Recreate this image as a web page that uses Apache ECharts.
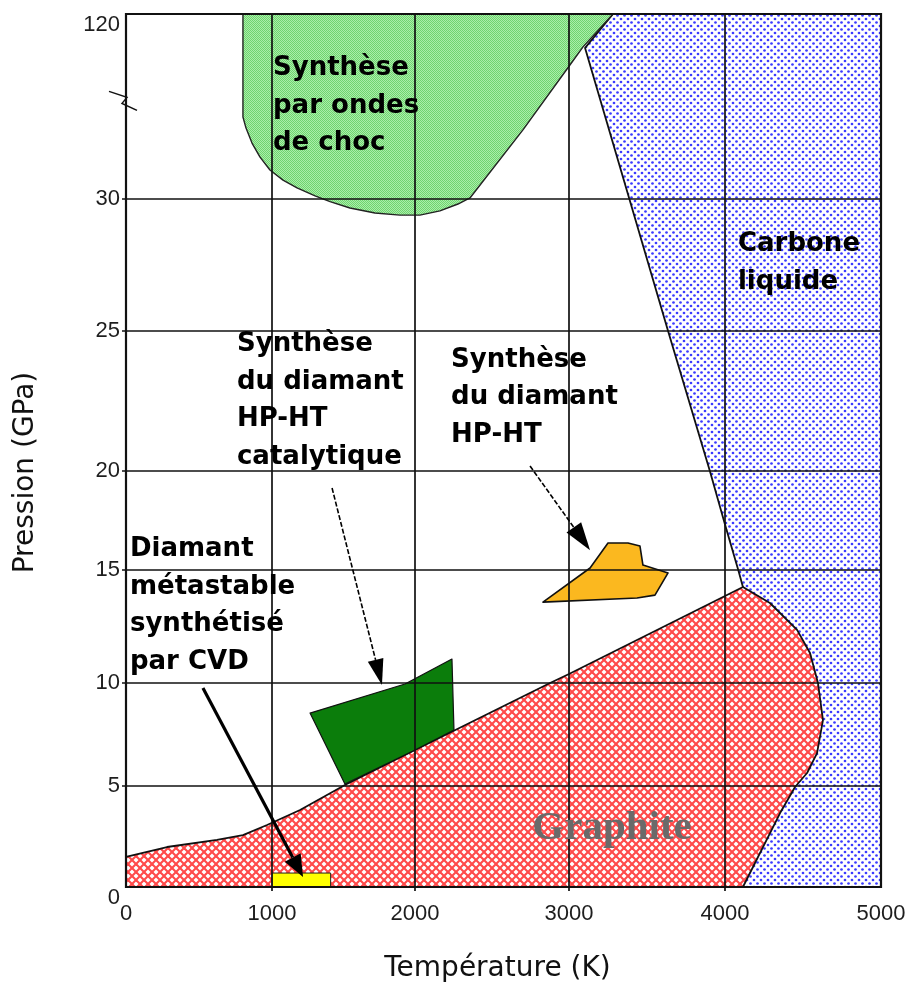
<!DOCTYPE html>
<html><head><meta charset="utf-8">
<script src="https://cdn.jsdelivr.net/npm/echarts@6/dist/echarts.min.js"></script>
<style>html,body{margin:0;padding:0;background:#fff}#c{width:921px;height:992px}</style>
</head><body><div id="c"></div>
<script>
// ---------------- DATA (Température en K, Pression en GPa) ----------------
const tempTicks = [0, 1000, 2000, 3000, 4000, 5000];
const tempTickLabels = ['0', '1000', '2000', '3000', '4000', '5000'];
const pressTicks = [0, 5, 10, 15, 20, 25, 30, 120];
const pressTickLabels = ['0', '5', '10', '15', '20', '25', '30', '120'];

// Synthèse par ondes de choc
const shockWave = [[801,120],[801,69.9],[822,64.5],[863,57.2],[918,50.4],[986,44.1],[1077,39.2],[1175,35.4],[1301,31.5],[1406,29.9],[1545,29.66],[1720,29.47],[1895,29.39],[2032,29.39],[2162,29.55],[2279,29.81],[2357,30.5],[2701,63.6],[3006,95.2],[3090,104],[3282,120]];
// Carbone liquide
const liquidCarbon = [[3282,120],[3103,103.5],[3387,30],[3635,25],[3903,20],[4000,17.3],[4085,15],[4115,14.25],[4115,0],[5000,0],[5000,120]];
// Graphite
const graphite = [[0,0],[0,1.49],[281,1.98],[623,2.33],[801,2.57],[966,3.07],[1196,3.81],[1510,5.05],[2000,6.75],[2877,10],[3000,10.4],[4000,13.85],[4115,14.25],[4288,13.54],[4462,12.35],[4545,11.33],[4596,10],[4628,8.2],[4590,6.6],[4526,5.63],[4449,4.95],[4353,3.66],[4115,0]];
// Synthèse HP-HT catalytique
const catalytic = [[1266,8.54],[1930,9.95],[2240,11.06],[2253,7.72],[2000,6.75],[1510,5.1]];
// Synthèse HP-HT
const hpht = [[2831,13.58],[3135,15.1],[3250,16.36],[3378,16.36],[3455,16.21],[3474,15.25],[3635,14.87],[3551,13.89],[3436,13.76]];
// Diamant CVD
const cvd = [[1000,0],[1410,0],[1410,0.69],[1000,0.69]];

// Flèches [départ, pointe]
const cvdArrow = [[527,9.76],[1217,0.5]];
const catalyticArrow = [[1420,19.14],[1769,9.9]];
const hphtArrow = [[2747,20.18],[3135,16.0]];

// Textes
const labelTexts = [
  ['Synthèse','par ondes','de choc'],
  ['Carbone','liquide'],
  ['Synthèse','du diamant','HP-HT','catalytique'],
  ['Synthèse','du diamant','HP-HT'],
  ['Diamant','métastable','synthétisé','par CVD']
];
const labelAnchors = [[1007,102.5],[4083,28.98],[760,25.19],[2234,24.64],[27,16.97]];
const graphiteText = 'Graphite';
const graphiteAnchor = [3276,2.92];
const breakMarkPressure = 77;

// ---------------- LAYOUT (axis scale breakpoints, px along each axis) ----------------
const xScalePos = [0,146,289,443,599,755];
const yScalePos = [0,101,204,317,416,556,688,873];
const X_MAX = xScalePos[xScalePos.length-1], Y_MAX = yScalePos[yScalePos.length-1];

function piece(v, ticks, pos){
  for (let i = 1; i < ticks.length; i++) {
    if (v <= ticks[i] || i === ticks.length-1) {
      return pos[i-1] + (v - ticks[i-1]) / (ticks[i] - ticks[i-1]) * (pos[i] - pos[i-1]);
    }
  }
}
const sx = t => piece(t, tempTicks, xScalePos);
const sy = p => piece(p, pressTicks, yScalePos);
function labelFor(v, pos, labels){
  let best = 0;
  for (let i = 0; i < pos.length; i++) if (Math.abs(pos[i]-v) < Math.abs(pos[best]-v)) best = i;
  return labels[best];
}

// ---------------- PATTERNS ----------------
function makePattern(size, draw){
  const c = document.createElement('canvas'); c.width = c.height = size;
  const ctx = c.getContext('2d'); draw(ctx, size);
  return {image: c, repeat: 'repeat'};
}
const greenPat = makePattern(2, (ctx) => {
  ctx.fillStyle = '#aaeeaa'; ctx.fillRect(0,0,2,2);
  ctx.fillStyle = '#6fd46f'; ctx.fillRect(0,0,1,1); ctx.fillRect(1,1,1,1);
});
const bluePat = makePattern(7, (ctx, s) => {
  ctx.fillStyle = '#ffffff'; ctx.fillRect(0,0,s,s);
  ctx.fillStyle = '#3b3bff';
  ctx.beginPath(); ctx.arc(1.5,1.5,1.35,0,Math.PI*2); ctx.fill();
  ctx.beginPath(); ctx.arc(5,5,1.35,0,Math.PI*2); ctx.fill();
});
const redPat = makePattern(8, (ctx, s) => {
  ctx.fillStyle = '#ffffff'; ctx.fillRect(0,0,s,s);
  ctx.strokeStyle = '#ff4a4a'; ctx.lineWidth = 2.1;
  for (const d of [-8,0,8]) {
    ctx.beginPath(); ctx.moveTo(d-1,-1); ctx.lineTo(d+9,9); ctx.stroke();
    ctx.beginPath(); ctx.moveTo(d+9,-1); ctx.lineTo(d-1,9); ctx.stroke();
  }
});

// ---------------- SERIES ----------------
function regionSeries(name, pts, fill, stroke, lw, z){
  return {
    type: 'custom', name, coordinateSystem: 'cartesian2d', data: [[0,0]], z, silent: true,
    renderItem: (params, api) => ({
      type: 'polygon',
      shape: {points: pts.map(p => api.coord([sx(p[0]), sy(p[1])]))},
      style: {fill, stroke, lineWidth: lw, lineJoin: 'round'}
    })
  };
}

function arrowEl(api, arr, lw, dash, headLen, headHalf){
  const a = api.coord([sx(arr[0][0]), sy(arr[0][1])]);
  const b = api.coord([sx(arr[1][0]), sy(arr[1][1])]);
  const dx = b[0]-a[0], dy = b[1]-a[1], L = Math.hypot(dx,dy);
  const ux = dx/L, uy = dy/L;
  const bx = b[0]-ux*headLen, by = b[1]-uy*headLen;
  return [
    {type:'line', shape:{x1:a[0],y1:a[1],x2:bx,y2:by}, style:{stroke:'#000', lineWidth:lw, lineDash: dash}},
    {type:'polygon', shape:{points:[[b[0],b[1]],[bx-uy*headHalf,by+ux*headHalf],[bx+uy*headHalf,by-ux*headHalf]]}, style:{fill:'#000'}}
  ];
}

const gridSeries = {
  type:'custom', coordinateSystem:'cartesian2d', data:[[0,0]], z: 20, silent: true,
  renderItem: (params, api) => {
    const c0 = api.coord([0,0]), c1 = api.coord([X_MAX, Y_MAX]);
    const left=c0[0], bottom=c0[1], right=c1[0], top=c1[1];
    const ch = [];
    tempTicks.slice(1,-1).forEach(t => {
      const x = api.coord([sx(t),0])[0];
      ch.push({type:'line', shape:{x1:x,y1:top,x2:x,y2:bottom+4}, style:{stroke:'#111', lineWidth:1.7}});
    });
    pressTicks.slice(1,-1).forEach(p => {
      const y = api.coord([0,sy(p)])[1];
      ch.push({type:'line', shape:{x1:left-4,y1:y,x2:right,y2:y}, style:{stroke:'#111', lineWidth:1.7}});
    });
    ch.push({type:'rect', shape:{x:left,y:top,width:right-left,height:bottom-top}, style:{fill:null, stroke:'#111', lineWidth:2.2}});
    // axis break mark
    const yb = api.coord([0, sy(breakMarkPressure)])[1];
    ch.push({type:'polyline', shape:{points:[[left-17,yb-11],[left+1,yb-5],[left-4,yb+1],[left+11,yb+8]]}, style:{stroke:'#111', lineWidth:1.5, fill:null}});
    return {type:'group', children: ch};
  }
};

const annoSeries = {
  type:'custom', coordinateSystem:'cartesian2d', data:[[0,0]], z: 30, silent: true, clip: false,
  renderItem: (params, api) => {
    const ch = [];
    ch.push(...arrowEl(api, cvdArrow, 3.2, null, 22, 9));
    ch.push(...arrowEl(api, catalyticArrow, 1.6, [5,2], 26, 8));
    ch.push(...arrowEl(api, hphtArrow, 1.6, [5,2], 28, 9));
    labelTexts.forEach((lines, i) => {
      const p = api.coord([sx(labelAnchors[i][0]), sy(labelAnchors[i][1])]);
      ch.push({type:'text', x:p[0], y:p[1], style:{text: lines.join('\n'), fill:'#000',
        font:'bold 26px "DejaVu Sans"', lineHeight: 37.5, align:'left', verticalAlign:'top'}});
    });
    const g = api.coord([sx(graphiteAnchor[0]), sy(graphiteAnchor[1])]);
    ch.push({type:'text', x:g[0], y:g[1], style:{text: graphiteText, fill:'#6a6a6a',
      font:'bold 41px "Liberation Serif"', align:'center', verticalAlign:'middle'}});
    return {type:'group', children: ch};
  }
};

const chart = echarts.init(document.getElementById('c'), null, {renderer:'canvas'});
chart.setOption({
  animation: false,
  backgroundColor: '#ffffff',
  grid: {left: 126, top: 14, width: X_MAX, height: Y_MAX, containLabel: false, outerBoundsMode: 'none'},
  xAxis: {
    type:'value', min:0, max:X_MAX,
    axisLine:{show:false}, splitLine:{show:false}, axisTick:{show:false},
    axisLabel:{customValues: xScalePos, formatter: v => labelFor(v, xScalePos, tempTickLabels),
      margin: 16, fontSize: 22, fontFamily: '"Liberation Sans", Arial', color:'#1e1e1e', showMinLabel:true, showMaxLabel:true},
    name:'Température (K)', nameLocation:'middle', nameGap: 68,
    nameTextStyle:{fontSize: 28, fontFamily:'"DejaVu Sans"', color:'#111', padding:[0,12,0,0]}
  },
  yAxis: {
    type:'value', min:0, max:Y_MAX,
    axisLine:{show:false}, splitLine:{show:false}, axisTick:{show:false},
    axisLabel:{customValues: yScalePos, formatter: v => labelFor(v, yScalePos, pressTickLabels),
      margin: 6, fontSize: 22, fontFamily: '"Liberation Sans", Arial', color:'#1e1e1e',
      showMinLabel:true, showMaxLabel:true, verticalAlignMinLabel:'top', verticalAlignMaxLabel:'top'},
    name:'Pression (GPa)', nameLocation:'middle', nameGap: 86, nameRotate: 90,
    nameTextStyle:{fontSize: 28, fontFamily:'"DejaVu Sans"', color:'#111', padding:[0,44,0,0]}
  },
  series: [
    regionSeries('Carbone liquide', liquidCarbon, bluePat, '#111', 1.8, 2),
    regionSeries('Ondes de choc', shockWave, greenPat, '#222', 1.4, 3),
    regionSeries('Graphite', graphite, redPat, '#111', 1.8, 4),
    regionSeries('HP-HT catalytique', catalytic, '#0b7d0b', '#111', 1.2, 5),
    regionSeries('CVD', cvd, '#ffff00', '#222', 1.0, 5),
    regionSeries('HP-HT', hpht, '#fbb81f', '#111', 1.6, 5),
    gridSeries,
    annoSeries
  ]
});
</script></body></html>
